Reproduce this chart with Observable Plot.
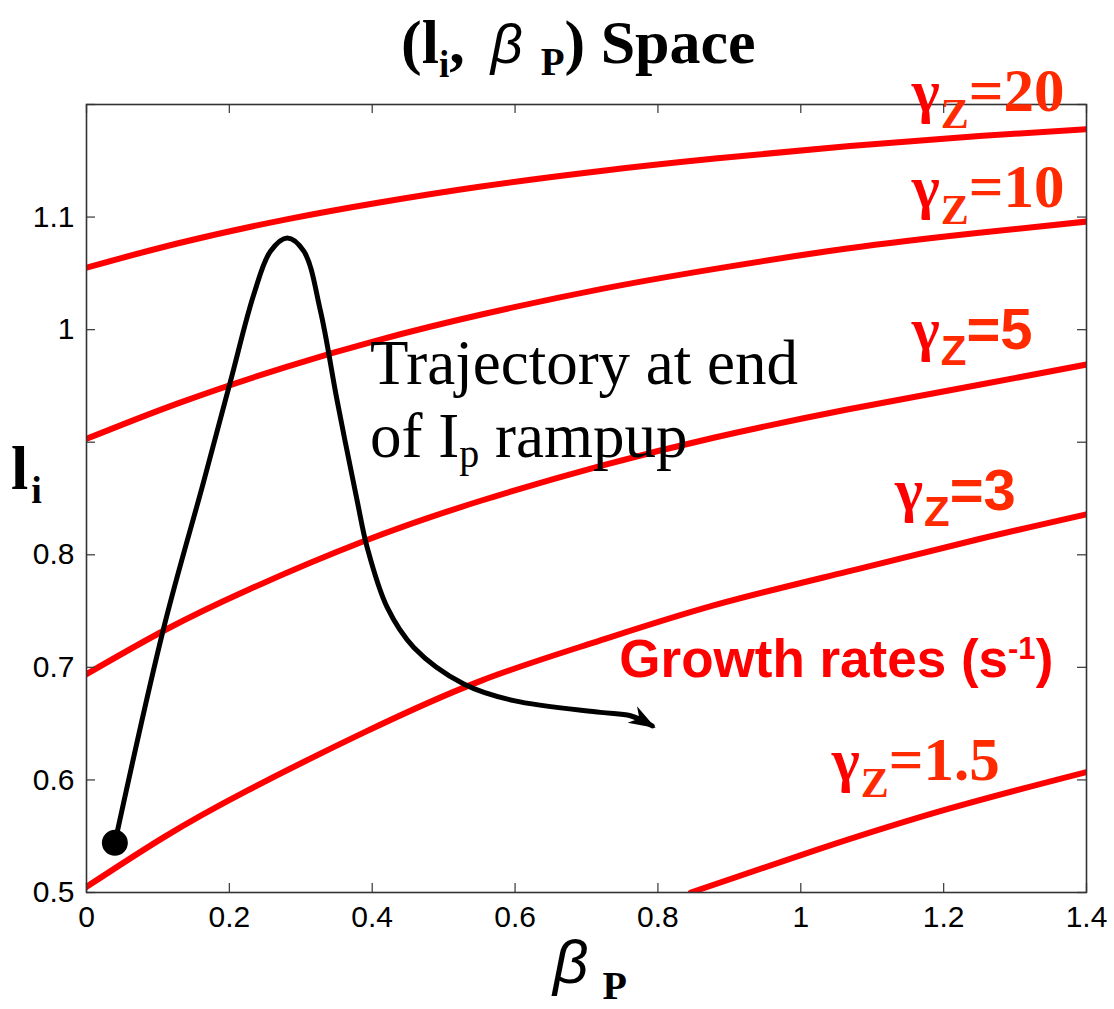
<!DOCTYPE html>
<html><head><meta charset="utf-8">
<script src="https://cdn.jsdelivr.net/npm/d3@7"></script>
<script src="https://cdn.jsdelivr.net/npm/@observablehq/plot@0.6"></script>
<style>body{margin:0;background:#fff} svg{display:block}</style>
</head><body><div id="chart"></div>
<script>
// ---- tick values / labels ----
const xTicks = [0, 0.2, 0.4, 0.6, 0.8, 1, 1.2, 1.4];
const xTickLabels = ["0", "0.2", "0.4", "0.6", "0.8", "1", "1.2", "1.4"];
const yTicks = [0.5, 0.6, 0.7, 0.8, 0.9, 1, 1.1, 1.2];
const yTickLabels = ["0.5", "0.6", "0.7", "0.8", "", "1", "1.1", ""];

// ---- growth-rate contours (beta_p, l_i) ----
const g20X = [0, 0.13, 0.28, 0.41, 0.55, 0.72, 0.88, 1.065, 1.25, 1.4];
const g20Y = [1.055, 1.077, 1.098, 1.113, 1.127, 1.141, 1.152, 1.163, 1.172, 1.178];
const g10X = [0, 0.13, 0.28, 0.41, 0.55, 0.72, 0.88, 1.065, 1.25, 1.4];
const g10Y = [0.903, 0.935, 0.967, 0.991, 1.013, 1.036, 1.054, 1.072, 1.086, 1.096];
const g5X = [0, 0.108, 0.225, 0.388, 0.552, 0.72, 0.878, 1.065, 1.25, 1.4];
const g5Y = [0.694, 0.7325, 0.7685, 0.812, 0.848, 0.879, 0.904, 0.929, 0.951, 0.969];
const g3X = [0, 0.108, 0.225, 0.388, 0.552, 0.71, 0.878, 1.065, 1.25, 1.4];
const g3Y = [0.505, 0.549, 0.5905, 0.642, 0.688, 0.722, 0.755, 0.785, 0.814, 0.836];
const g15X = [0.846, 1.018, 1.205, 1.4];
const g15Y = [0.5, 0.537, 0.574, 0.607];

// ---- trajectory ----
const trajX = [0.0397, 0.1082, 0.1643, 0.2016, 0.2342, 0.2576, 0.281, 0.3042, 0.3276, 0.351, 0.379, 0.393, 0.421, 0.4582, 0.5282, 0.5982, 0.7196, 0.7616, 0.792];
const trajY = [0.5441, 0.7353, 0.8656, 0.9543, 1.0312, 1.0697, 1.0815, 1.0697, 1.0164, 0.9366, 0.8478, 0.8064, 0.7532, 0.7177, 0.6852, 0.6704, 0.66, 0.657, 0.648];

// ---- contour labels ----
const gammaNames = ["20", "10", "5", "3", "1.5"];
const gammaLabelX = [1.156, 1.156, 1.156, 1.1326, 1.044];
const gammaLabelY = [1.1939, 1.1081, 0.9824, 0.839, 0.5994];
const gammaLabelSans = [false, false, true, true, false];

const contours = [
  ["20", g20X, g20Y], ["10", g10X, g10Y], ["5", g5X, g5Y], ["3", g3X, g3Y], ["1.5", g15X, g15Y]
].flatMap(([g, xs, ys]) => xs.map((x, i) => ({g, x, y: ys[i]})));
const traj = trajX.map((x, i) => ({x, y: trajY[i]}));

const W = 1114, H = 1009;
const mT = 104, mL = 86, mR = 28, mB = 117;
const fw = W - mL - mR, fh = H - mT - mB, tk = 9;

const plot = Plot.plot({
  width: W, height: H,
  marginTop: mT, marginLeft: mL, marginRight: mR, marginBottom: mB,
  x: {domain: [0, 1.4]},
  y: {domain: [0.5, 1.2]},
  style: {background: "white", fontFamily: "'Liberation Sans', Arial, sans-serif", fontSize: "30px", color: "black"},
  marks: [
    Plot.line(contours, {x: "x", y: "y", z: "g", stroke: "#ff0000", strokeWidth: 6, curve: "natural", clip: true}),
    Plot.line(traj, {x: "x", y: "y", stroke: "black", strokeWidth: 5, curve: "catmull-rom"}),
    Plot.dot([traj[0]], {x: "x", y: "y", r: 13, fill: "black"}),
    Plot.tickX(xTicks, {x: d => d, insetTop: fh - tk, stroke: "#444", strokeWidth: 1.3}),
    Plot.tickX(xTicks, {x: d => d, insetBottom: fh - tk, stroke: "#444", strokeWidth: 1.3}),
    Plot.tickY(yTicks, {y: d => d, insetRight: fw - tk, stroke: "#444", strokeWidth: 1.3}),
    Plot.tickY(yTicks, {y: d => d, insetLeft: fw - tk, stroke: "#444", strokeWidth: 1.3}),
    Plot.frame({stroke: "#333", strokeWidth: 1.6}),
    Plot.axisX({ticks: xTicks, tickSize: 0, tickPadding: 13, label: null,
      tickFormat: d => xTickLabels[xTicks.indexOf(d)]}),
    Plot.axisY({ticks: yTicks, tickSize: 0, tickPadding: 12, label: null,
      tickFormat: d => yTickLabels[yTicks.indexOf(d)]})
  ]
});
document.getElementById("chart").appendChild(plot);

// the only texts so far are the tick labels: force their size
plot.querySelectorAll("text").forEach(t => { t.style.fontSize = "30px"; t.style.fill = "black"; });

const svg = d3.select(plot);

// custom filled arrowhead for trajectory (attached to the black line drawn by Plot)
const defs = svg.append("defs");
defs.append("marker")
  .attr("id", "trajArrow").attr("viewBox", "0 0 20 16").attr("refX", 17).attr("refY", 8)
  .attr("markerUnits", "userSpaceOnUse").attr("markerWidth", 27).attr("markerHeight", 21.6)
  .attr("orient", "auto")
  .append("path").attr("d", "M0,1 L20,8 L0,15 L6,8 Z").attr("fill", "black").attr("stroke", "none");
plot.querySelectorAll('g[stroke="black"] path').forEach(p => p.setAttribute("marker-end", "url(#trajArrow)"));

const sx = plot.scale("x"), sy = plot.scale("y");
const SERIF = "'Liberation Serif', 'Times New Roman', serif";
const SANS = "'Liberation Sans', Arial, sans-serif";

function rich(x, y, parts, attrs) {
  const t = svg.append("text").attr("x", x).attr("y", y).attr("text-anchor", "start");
  for (const [k, v] of Object.entries(attrs || {})) t.attr(k, v);
  let shift = 0;
  for (const p of parts) {
    const ts = t.append("tspan").text(p.t);
    const target = p.dy || 0;
    if (target - shift) ts.attr("dy", target - shift);
    shift = target;
    if (p.size) ts.attr("font-size", p.size);
    if (p.family) ts.attr("font-family", p.family);
    if (p.weight) ts.attr("font-weight", p.weight);
    if (p.style) ts.attr("font-style", p.style);
    if (p.fill) ts.attr("fill", p.fill);
    if (p.dx) ts.attr("dx", p.dx);
  }
  return t;
}

// Title
rich(401, 63, [
  {t: "(l"},
  {t: "i", size: 37, dy: 14},
  {t: ",", dy: 0},
  {t: "\u03B2", family: SANS, style: "italic", weight: "normal", size: 56, dx: 26},
  {t: "P", size: 39, dy: 12, dx: 18},
  {t: ")", dy: 0},
  {t: " Space"}
], {"font-family": SERIF, "font-weight": "bold", "font-size": 62, fill: "black"});

// Y axis label
rich(11, 489, [
  {t: "l"},
  {t: "i", size: 38, dy: 14, dx: 3}
], {"font-family": SERIF, "font-weight": "bold", "font-size": 62, fill: "black"});

// X axis label
rich(553, 983, [
  {t: "\u03B2", family: SANS, style: "italic", weight: "normal", size: 62},
  {t: "P", size: 40, dy: 16, dx: 14}
], {"font-family": SERIF, "font-weight": "bold", fill: "black"});

// Gamma labels
gammaNames.forEach((name, i) => {
  const sans = gammaLabelSans[i];
  rich(sx.apply(gammaLabelX[i]), sy.apply(gammaLabelY[i]), [
    {t: "\u03B3", family: SERIF, fill: "#ff0000"},
    {t: "Z", size: 42, dy: sans ? 16 : 17, family: sans ? SANS : SERIF, dx: 1},
    {t: "=" + name, dy: 0, family: sans ? SANS : SERIF, size: sans ? 58 : 61}
  ], {"font-weight": "bold", "font-size": 60, fill: "#ff2a00"});
});

// Growth rates
rich(sx.apply(0.7466), sy.apply(0.691), [
  {t: "Growth rates (s"},
  {t: "-1", size: 31, dy: -18},
  {t: ")", dy: 0}
], {"font-family": SANS, "font-weight": "bold", "font-size": 53, fill: "#ff0000"});

// Trajectory annotation
rich(sx.apply(0.3976), sy.apply(0.9514), [{t: "Trajectory at end"}],
  {"font-family": SERIF, "font-size": 63, fill: "black"});
rich(sx.apply(0.3976), sy.apply(0.8863), [
  {t: "of I"},
  {t: "p", size: 40, dy: 10},
  {t: " rampup", dy: 0}
], {"font-family": SERIF, "font-size": 63, fill: "black"});
</script>
</body></html>
